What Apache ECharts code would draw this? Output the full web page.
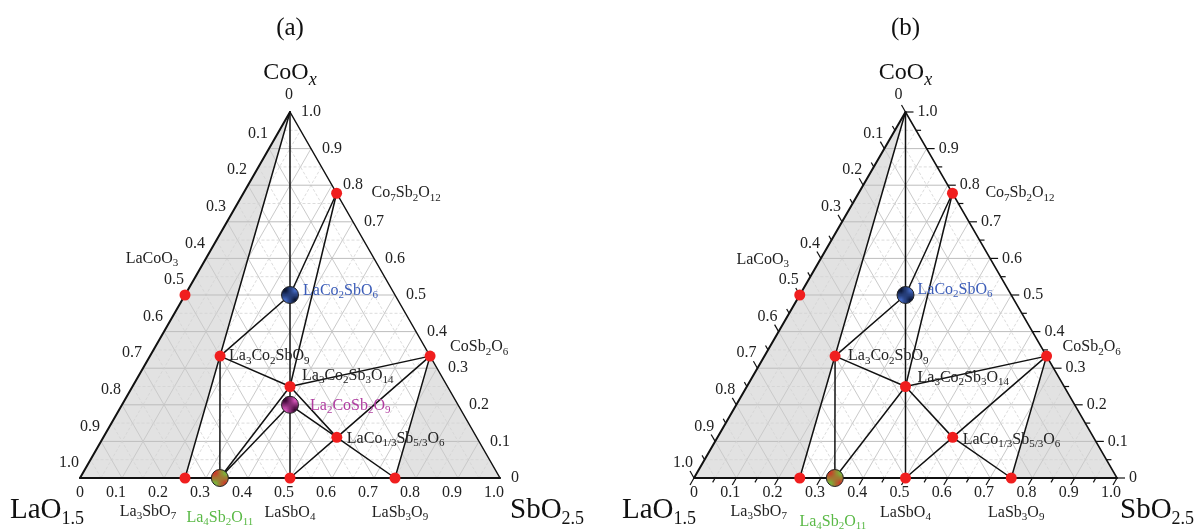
<!DOCTYPE html>
<html><head><meta charset="utf-8">
<script src="https://cdn.jsdelivr.net/npm/echarts@6/dist/echarts.min.js"></script>
<style>html,body{margin:0;padding:0;background:#fff}#c{width:1194px;height:531px}</style>
</head><body><div id="c"></div>
<script>
// ---------------- DATA ----------------
// phase compositions: fractions of SbO2.5 and CoOx (LaO1.5 = remainder)
const phases = ['LaCoO3','Co7Sb2O12','CoSb2O6','LaSb3O9','LaSbO4','La3SbO7','La4Sb2O11','La3Co2SbO9','La3Co2Sb3O14','La2CoSb2O9','LaCo1/3Sb5/3O6','LaCo2SbO6'];
const phaseLabels = ['LaCoO{s|3}','Co{s|7}Sb{s|2}O{s|12}','CoSb{s|2}O{s|6}','LaSb{s|3}O{s|9}','LaSbO{s|4}','La{s|3}SbO{s|7}','La{s|4}Sb{s|2}O{s|11}','La{s|3}Co{s|2}SbO{s|9}','La{s|3}Co{s|2}Sb{s|3}O{s|14}','La{s|2}CoSb{s|2}O{s|9}','LaCo{s|1/3}Sb{s|5/3}O{s|6}','LaCo{s|2}SbO{s|6}'];
const sbFraction = [0, 0.222, 0.667, 0.75, 0.5, 0.25, 0.333, 0.167, 0.375, 0.4, 0.556, 0.25];
const coFraction = [0.5, 0.778, 0.333, 0, 0, 0, 0, 0.333, 0.25, 0.2, 0.111, 0.5];
const vertexNames = ['LaO1.5','SbO2.5','CoOx'];
const vertexSb = [0, 1, 0];
const vertexCo = [0, 0, 1];
const patternedPhases = ['LaCo2SbO6','La2CoSb2O9','La4Sb2O11'];
const phasesA = phases.slice();
const phasesB = phases.filter(p => p !== 'La2CoSb2O9');
const tieLinesA = [
  ['CoOx','LaSbO4'],['CoOx','La3SbO7'],['La3Co2SbO9','La4Sb2O11'],['La3Co2SbO9','LaCo2SbO6'],
  ['La3Co2SbO9','La3Co2Sb3O14'],['LaCo2SbO6','Co7Sb2O12'],['Co7Sb2O12','La3Co2Sb3O14'],
  ['La3Co2Sb3O14','CoSb2O6'],['La3Co2Sb3O14','LaCo1/3Sb5/3O6'],['CoSb2O6','LaCo1/3Sb5/3O6'],
  ['CoSb2O6','LaSb3O9'],['LaCo1/3Sb5/3O6','LaSbO4'],['LaCo1/3Sb5/3O6','LaSb3O9'],
  ['La4Sb2O11','La3Co2Sb3O14'],['La4Sb2O11','La2CoSb2O9'],['La2CoSb2O9','LaCo1/3Sb5/3O6']
];
const tieLinesB = [
  ['CoOx','LaSbO4'],['CoOx','La3SbO7'],['La3Co2SbO9','La4Sb2O11'],['La3Co2SbO9','LaCo2SbO6'],
  ['La3Co2SbO9','La3Co2Sb3O14'],['LaCo2SbO6','Co7Sb2O12'],['Co7Sb2O12','La3Co2Sb3O14'],
  ['La3Co2Sb3O14','CoSb2O6'],['La3Co2Sb3O14','LaCo1/3Sb5/3O6'],['CoSb2O6','LaCo1/3Sb5/3O6'],
  ['CoSb2O6','LaSb3O9'],['LaCo1/3Sb5/3O6','LaSbO4'],['LaCo1/3Sb5/3O6','LaSb3O9'],
  ['La4Sb2O11','La3Co2Sb3O14']
];
const shadedRegions = [['CoOx','LaO1.5','La3SbO7'],['CoSb2O6','LaSb3O9','SbO2.5']];
const tickValues = [0,0.1,0.2,0.3,0.4,0.5,0.6,0.7,0.8,0.9,1.0];
const tickLabels = ['0','0.1','0.2','0.3','0.4','0.5','0.6','0.7','0.8','0.9','1.0'];
const minorStep = 0.05;

// ---------------- STYLE ----------------
const FONT = '"Liberation Serif","DejaVu Serif","Times New Roman",serif';
const labelColors = {'LaCo2SbO6':'#3b5cb8','La2CoSb2O9':'#b03ca0','La4Sb2O11':'#5ab946'};
const labelOffsetsA = {
  'LaCoO3':[-33,-36,'center'],'Co7Sb2O12':[35,0,'left'],'CoSb2O6':[20,-9,'left'],
  'LaSb3O9':[5,35,'center'],'LaSbO4':[0,35,'center'],'La3SbO7':[-37,34,'center'],
  'La4Sb2O11':[0,40,'center'],'La3Co2SbO9':[9,0,'left'],'La3Co2Sb3O14':[12,-11,'left'],
  'La2CoSb2O9':[20,1,'left'],'LaCo1/3Sb5/3O6':[10,1,'left'],'LaCo2SbO6':[13,-4,'left']
};
const labelOffsetsB = Object.assign({}, labelOffsetsA, {
  'LaCoO3':[-37,-35,'center'],'Co7Sb2O12':[33,0,'left'],'CoSb2O6':[16,-9,'left'],
  'La3SbO7':[-41,34,'center'],'La4Sb2O11':[-2,44,'center'],'La3Co2SbO9':[13,0,'left'],
  'La3Co2Sb3O14':[12,-9,'left'],'LaCo1/3Sb5/3O6':[10,2,'left'],'LaCo2SbO6':[12,-5,'left']
});

function checker(c1, c2, cell) {
  const cv = document.createElement('canvas');
  cv.width = cv.height = cell * 2;
  const g = cv.getContext('2d');
  g.fillStyle = c1; g.fillRect(0, 0, cell * 2, cell * 2);
  g.fillStyle = c2; g.fillRect(0, 0, cell, cell); g.fillRect(cell, cell, cell, cell);
  return {image: cv, repeat: 'repeat'};
}
const markerFill = {
  'LaCo2SbO6': checker('#4266bd', '#0c1838', 2),
  'La2CoSb2O9': checker('#d052b4', '#3e0836', 2),
  'La4Sb2O11': checker('#7cb03a', '#c8402a', 2)
};

// ---------------- HELPERS ----------------
function tern(s, c) { return [s + c / 2, c]; }
function comp(name) {
  let i = phases.indexOf(name);
  if (i >= 0) return [sbFraction[i], coFraction[i]];
  i = vertexNames.indexOf(name);
  return [vertexSb[i], vertexCo[i]];
}
function isMajor(v) { return Math.abs(v * 10 - Math.round(v * 10)) < 1e-6; }
const subVals = [];
for (let k = 1; k < 20; k++) subVals.push(+(k * minorStep).toFixed(2));
const allTickVals = [];
for (let k = 0; k <= 20; k++) allTickVals.push(+(k * minorStep).toFixed(2));

const panels = [
  {left: 80, top: 112, width: 420, height: 366, phases: phasesA, ties: tieLinesA, ticks: false, offs: labelOffsetsA, topZero: [-1, -17], rightDx: 11},
  {left: 694, top: 112, width: 423, height: 366, phases: phasesB, ties: tieLinesB, ticks: true, offs: labelOffsetsB, topZero: [-7, -17], rightDx: 12}
];

const grids = [], xAxes = [], yAxes = [], series = [];
panels.forEach((P, pi) => {
  grids.push({left: P.left, top: P.top, width: P.width, height: P.height, containLabel: false});
  xAxes.push({gridIndex: pi, type: 'value', min: 0, max: 1, show: false});
  yAxes.push({gridIndex: pi, type: 'value', min: 0, max: 1, show: false});
  const ax = {xAxisIndex: pi, yAxisIndex: pi};

  // shaded regions
  series.push(Object.assign({
    type: 'custom', z: 1, silent: true,
    data: shadedRegions.map(r => { const out = []; r.forEach(n => { const c = comp(n); out.push(...tern(c[0], c[1])); }); return out; }),
    renderItem: (params, api) => {
      const pts = [0, 1, 2].map(k => api.coord([api.value(2 * k), api.value(2 * k + 1)]));
      return {type: 'polygon', shape: {points: pts}, style: {fill: '#e2e2e2', stroke: null}};
    }
  }, ax));

  // grid lines
  const gridData = [];
  subVals.forEach(v => {
    const mj = isMajor(v) ? 1 : 0;
    gridData.push([...tern(0, v), ...tern(1 - v, v), mj, 0]);
    gridData.push([...tern(v, 0), ...tern(v, 1 - v), mj, 1]);
    gridData.push([...tern(1 - v, 0), ...tern(0, 1 - v), mj, 2]);
  });
  series.push(Object.assign({
    type: 'custom', z: 2, silent: true, data: gridData,
    renderItem: (params, api) => {
      const a = api.coord([api.value(0), api.value(1)]);
      const b = api.coord([api.value(2), api.value(3)]);
      const mj = api.value(4) === 1, fam = api.value(5);
      let style;
      if (mj) style = {stroke: fam === 0 ? '#bdbdbd' : '#cacaca', lineWidth: 1};
      else style = {stroke: '#d3d3d3', lineWidth: 0.8, lineDash: [3, 2]};
      return {type: 'line', shape: {x1: a[0], y1: a[1], x2: b[0], y2: b[1]}, style: style};
    }
  }, ax));

  // axis ticks (panel b)
  if (P.ticks) {
    const tickData = [];
    allTickVals.forEach(v => {
      const mj = isMajor(v) ? 1 : 0;
      tickData.push([...tern(v, 0), ...tern(v, -0.05), mj]);          // bottom (SbO2.5)
      tickData.push([...tern(1 - v, v), ...tern(1 - v + 0.05, v), mj]); // right (CoOx)
      tickData.push([...tern(0, 1 - v), ...tern(-0.05, 1 - v + 0.05), mj]); // left (LaO1.5)
    });
    series.push(Object.assign({
      type: 'custom', z: 3, silent: true, clip: false, data: tickData,
      renderItem: (params, api) => {
        const a = api.coord([api.value(0), api.value(1)]);
        const b = api.coord([api.value(2), api.value(3)]);
        const L = api.value(4) === 1 ? 8 : 5;
        const dx = b[0] - a[0], dy = b[1] - a[1], n = Math.hypot(dx, dy);
        return {type: 'line', shape: {x1: a[0], y1: a[1], x2: a[0] + dx / n * L, y2: a[1] + dy / n * L},
          style: {stroke: '#111', lineWidth: 1.2}};
      }
    }, ax));
  }

  // outline + tie lines
  const lineData = [];
  lineData.push([...tern(0, 0), ...tern(0, 1), 2]);
  lineData.push([...tern(1, 0), ...tern(0, 1), 1.5]);
  lineData.push([...tern(0, 0), ...tern(1, 0), 2]);
  P.ties.forEach(t => { const a = comp(t[0]), b = comp(t[1]); lineData.push([...tern(a[0], a[1]), ...tern(b[0], b[1]), 1.5]); });
  series.push(Object.assign({
    type: 'custom', z: 4, silent: true, clip: false, data: lineData,
    renderItem: (params, api) => {
      const a = api.coord([api.value(0), api.value(1)]);
      const b = api.coord([api.value(2), api.value(3)]);
      return {type: 'line', shape: {x1: a[0], y1: a[1], x2: b[0], y2: b[1]},
        style: {stroke: '#111', lineWidth: api.value(4), lineCap: 'round'}};
    }
  }, ax));

  // markers
  series.push(Object.assign({
    type: 'scatter', z: 5, silent: true, symbol: 'circle', symbolSize: 11,
    itemStyle: {color: '#f01e1e', opacity: 1},
    data: P.phases.filter(n => patternedPhases.indexOf(n) < 0).map(n => { const c = comp(n); return tern(c[0], c[1]); })
  }, ax));
  series.push(Object.assign({
    type: 'scatter', z: 6, silent: true, symbol: 'circle', symbolSize: 17,
    data: P.phases.filter(n => patternedPhases.indexOf(n) >= 0).map(n => {
      const c = comp(n);
      return {value: tern(c[0], c[1]), itemStyle: {color: markerFill[n], borderColor: '#222', borderWidth: 1, opacity: 1}};
    })
  }, ax));

  // texts: tick labels and phase labels
  const texts = [];
  tickValues.forEach((v, i) => {
    texts.push({p: tern(v, 0), t: tickLabels[i], dx: 4, dy: 15, align: 'right', kind: 'tick'});
    texts.push({p: tern(1 - v, v), t: tickLabels[i], dx: P.rightDx, dy: 0, align: 'left', kind: 'tick'});
    if (i === 0) texts.push({p: tern(0, 1), t: tickLabels[i], dx: P.topZero[0], dy: P.topZero[1], align: 'center', kind: 'tick'});
    else texts.push({p: tern(0, 1 - v), t: tickLabels[i], dx: -1, dy: -15, align: 'right', kind: 'tick'});
  });
  P.phases.forEach(n => {
    const c = comp(n), o = P.offs[n];
    texts.push({p: tern(c[0], c[1]), t: phaseLabels[phases.indexOf(n)], dx: o[0], dy: o[1], align: o[2], kind: 'phase', color: labelColors[n] || '#222'});
  });
  series.push(Object.assign({
    type: 'custom', z: 7, silent: true, clip: false,
    data: texts.map((t, i) => [t.p[0], t.p[1], i]),
    renderItem: (params, api) => {
      const t = texts[api.value(2)];
      const p = api.coord([api.value(0), api.value(1)]);
      const isTick = t.kind === 'tick';
      return {type: 'text', x: p[0] + t.dx, y: p[1] + t.dy,
        style: {text: t.t, fontFamily: FONT, fontSize: 16, fill: isTick ? '#222' : t.color,
          align: t.align, verticalAlign: 'middle', lineHeight: 20,
          rich: {s: {fontFamily: FONT, fontSize: 11, lineHeight: 14, verticalAlign: 'bottom', fill: t.color || '#222'}}}};
    }
  }, ax));
});

// axis titles / panel titles
const graphic = [];
const richAxis = {
  s: {fontFamily: FONT, fontSize: 18, lineHeight: 22, verticalAlign: 'bottom', fill: '#111'},
  i: {fontFamily: FONT, fontSize: 18, fontStyle: 'italic', lineHeight: 22, verticalAlign: 'bottom', fill: '#111'}
};
[['(a)', 290, 'LaO1.5', 10, 510], ['(b)', 905.5, 'LaO1.5', 622, 1120]].forEach(g => {
  graphic.push({type: 'text', x: g[1], y: 28, style: {text: g[0], fontFamily: FONT, fontSize: 25, fill: '#111', align: 'center', verticalAlign: 'middle'}});
  graphic.push({type: 'text', x: g[1], y: 73, style: {text: 'CoO{i|x}', fontFamily: FONT, fontSize: 24, lineHeight: 32, fill: '#111', align: 'center', verticalAlign: 'middle', rich: richAxis}});
  graphic.push({type: 'text', x: g[3], y: 510, style: {text: 'LaO{s|1.5}', fontFamily: FONT, fontSize: 29, lineHeight: 36, fill: '#111', align: 'left', verticalAlign: 'middle', rich: richAxis}});
  graphic.push({type: 'text', x: g[4], y: 510, style: {text: 'SbO{s|2.5}', fontFamily: FONT, fontSize: 29, lineHeight: 36, fill: '#111', align: 'left', verticalAlign: 'middle', rich: richAxis}});
});

const chart = echarts.init(document.getElementById('c'));
chart.setOption({
  animation: false,
  backgroundColor: '#fff',
  grid: grids, xAxis: xAxes, yAxis: yAxes, series: series, graphic: graphic
});
</script>
</body></html>
